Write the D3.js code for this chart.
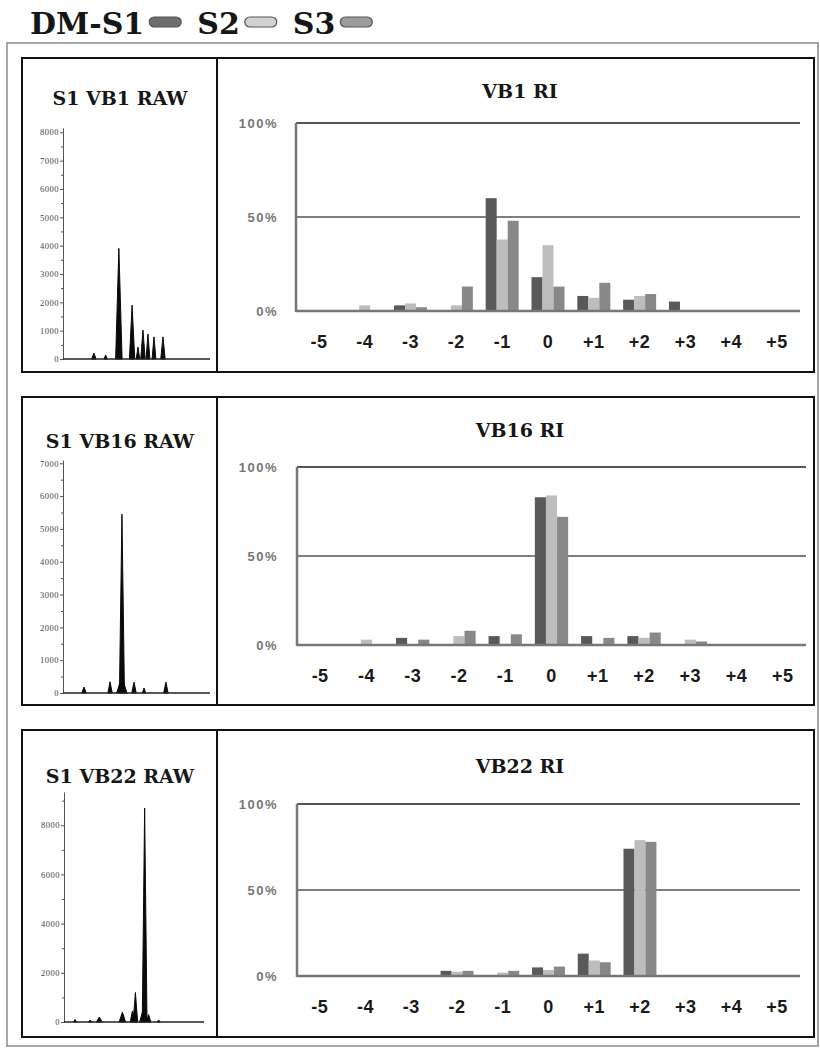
<!DOCTYPE html>
<html>
<head>
<meta charset="utf-8">
<script src="https://cdn.jsdelivr.net/npm/d3@7"></script>
<style>
  body { margin: 0; background: #fff; }
  svg { display: block; }
  .ttl { font-family: 'DejaVu Serif', serif; font-weight: bold; fill: #161616; }
  .pct { font-family: 'Liberation Sans', Arial, sans-serif; font-weight: bold; font-size: 13px; fill: #777; letter-spacing: 1.5px; }
  .cat { font-family: 'Liberation Sans', Arial, sans-serif; font-weight: bold; font-size: 18px; fill: #1a1a1a; letter-spacing: 0.5px; }
  .raw-axis text { font-family: 'Liberation Serif', serif; font-size: 8.5px; fill: #444; letter-spacing: .5px; }
  .raw-axis path, .raw-axis line { stroke: #555; }
</style>
</head>
<body>
<div id="chart"></div>
<script>
// repeat-length categories on the RI charts
var categories = ['-5', '-4', '-3', '-2', '-1', '0', '+1', '+2', '+3', '+4', '+5'];
var seriesNames = ['S1', 'S2', 'S3'];
var legendLabels = ['DM-S1', 'S2', 'S3'];
var pctTicks = [0, 50, 100];

// RI values, percent
var vb1S1 = [0, 0, 3, 0, 60, 18, 8, 6, 5, 0, 0];
var vb1S2 = [0, 3, 4, 3, 38, 35, 7, 8, 0, 0, 0];
var vb1S3 = [0, 0, 2, 13, 48, 13, 15, 9, 0, 0, 0];

var vb16S1 = [0, 0, 4, 0, 5, 83, 5, 5, 0, 0, 0];
var vb16S2 = [0, 3, 0.5, 5, 0.5, 84, 0.5, 4, 3, 0, 0];
var vb16S3 = [0, 0, 3, 8, 6, 72, 4, 7, 2, 0, 0];

var vb22S1 = [0, 0, 0, 3, 0.5, 5, 13, 74, 0.5, 0, 0];
var vb22S2 = [0, 0, 0, 2.5, 2, 3.5, 9, 79, 0, 0, 0];
var vb22S3 = [0, 0, 0, 3, 3, 5.5, 8, 78, 0, 0, 0];

// raw traces: peak position (0-100 scan units), height (rfu), base width (scan units)
var vb1RawPos    = [21, 29, 38, 47, 51, 54.4, 57.8, 61.9, 68];
var vb1RawHeight = [210, 140, 3900, 1900, 420, 1020, 880, 780, 780];
var vb1RawWidth  = [3, 2.2, 4.4, 3.6, 2.4, 3, 2.6, 2.6, 3];

var vb16RawPos    = [14.3, 32, 40, 40.1, 48.3, 55.1, 70];
var vb16RawHeight = [180, 340, 500, 5450, 330, 150, 330];
var vb16RawWidth  = [3, 3, 7, 3.4, 3, 2.2, 3];

var vb22RawPos    = [7.9, 18.7, 25.2, 41.7, 48.9, 51, 56, 57.6, 60.4, 67.6];
var vb22RawHeight = [100, 80, 200, 400, 450, 1200, 400, 8700, 300, 80];
var vb22RawWidth  = [2.2, 2.2, 4, 4.6, 3.2, 3.2, 4, 3.4, 3.2, 2.2];

var rawTicksA = [0, 1000, 2000, 3000, 4000, 5000, 6000, 7000, 8000];
var rawMinorA = [500, 1500, 2500, 3500, 4500, 5500, 6500, 7500];
var rawTicksB = [0, 1000, 2000, 3000, 4000, 5000, 6000, 7000];
var rawMinorB = [500, 1500, 2500, 3500, 4500, 5500, 6500];
var rawTicksC = [0, 2000, 4000, 6000, 8000];
var rawMinorC = [1000, 3000, 5000, 7000, 9000];

var colors = ['#595959', '#bdbdbd', '#888888'];

var W = 820, H = 1057;
var svg = d3.select('#chart').append('svg')
  .attr('width', W)
  .attr('height', H);

svg.append('rect').attr('width', W).attr('height', H).attr('fill', '#fff');

// header with legend swatches
var lx = 30;
legendLabels.forEach(function(lab, i) {
  var t = svg.append('text')
    .attr('class', 'ttl')
    .attr('x', lx)
    .attr('y', 34)
    .style('font-size', '30px')
    .text(lab);
  var tw = t.node().getComputedTextLength();
  svg.append('rect')
    .attr('x', lx + tw + 5)
    .attr('y', 17)
    .attr('width', 32)
    .attr('height', 10)
    .attr('rx', 5)
    .attr('fill', i === 0 ? '#6e6e6e' : (i === 1 ? '#d2d2d2' : '#9c9c9c'))
    .attr('stroke', '#555')
    .attr('stroke-width', 1.2);
  lx = lx + tw + 5 + 32 + 16;
});

// outer frame
svg.append('rect')
  .attr('x', 7).attr('y', 43)
  .attr('width', 811).attr('height', 1003)
  .attr('fill', 'none')
  .attr('stroke', '#8a8a8a')
  .attr('stroke-width', 1.5);

var panels = [
  {top: 58, bottom: 372, rawTitle: 'S1 VB1 RAW', riTitle: 'VB1 RI', rawTitleY: 105, riTitleY: 98,
   raw: {pos: vb1RawPos, h: vb1RawHeight, w: vb1RawWidth, ticks: rawTicksA, minor: rawMinorA,
         ymax: 8150, zero: 359, topY: 128, x0: 63, x1: 210},
   ri: {vals: [vb1S1, vb1S2, vb1S3], zero: 311, full: 123, left: 296, right: 800}},
  {top: 397, bottom: 705, rawTitle: 'S1 VB16 RAW', riTitle: 'VB16 RI', rawTitleY: 448, riTitleY: 437,
   raw: {pos: vb16RawPos, h: vb16RawHeight, w: vb16RawWidth, ticks: rawTicksB, minor: rawMinorB,
         ymax: 7100, zero: 693, topY: 460, x0: 63, x1: 210},
   ri: {vals: [vb16S1, vb16S2, vb16S3], zero: 645, full: 467, left: 297, right: 806}},
  {top: 730, bottom: 1037, rawTitle: 'S1 VB22 RAW', riTitle: 'VB22 RI', rawTitleY: 783, riTitleY: 773,
   raw: {pos: vb22RawPos, h: vb22RawHeight, w: vb22RawWidth, ticks: rawTicksC, minor: rawMinorC,
         ymax: 9350, zero: 1022, topY: 792, x0: 64, x1: 204},
   ri: {vals: [vb22S1, vb22S2, vb22S3], zero: 976, full: 804, left: 297, right: 800}}
];

var peakLine = d3.line();

panels.forEach(function(p) {
  var g = svg.append('g');

  // ---- raw trace ----
  var rx = d3.scaleLinear().domain([0, 100]).range([p.raw.x0, p.raw.x1]);
  var ry = d3.scaleLinear().domain([0, p.raw.ymax]).range([p.raw.zero, p.raw.topY]);

  g.append('text')
    .attr('class', 'ttl')
    .attr('x', 120)
    .attr('y', p.rawTitleY)
    .attr('text-anchor', 'middle')
    .style('font-size', '19px')
    .text(p.rawTitle);

  g.append('g')
    .attr('class', 'raw-axis')
    .attr('transform', 'translate(' + p.raw.x0 + ',0)')
    .call(d3.axisLeft(ry).tickValues(p.raw.minor).tickSize(2).tickFormat(''))
    .select('.domain').remove();

  g.append('g')
    .attr('class', 'raw-axis')
    .attr('transform', 'translate(' + p.raw.x0 + ',0)')
    .call(d3.axisLeft(ry).tickValues(p.raw.ticks).tickSizeInner(3).tickSizeOuter(0)
      .tickPadding(1).tickFormat(d3.format('d')));

  g.selectAll('.peak')
    .data(p.raw.pos.map(function(d, i) { return {x: d, h: p.raw.h[i], w: p.raw.w[i]}; }))
    .enter()
    .append('path')
    .attr('class', 'peak')
    .attr('d', function(d) {
      return peakLine([[rx(d.x - d.w / 2), ry(0)], [rx(d.x), ry(d.h)], [rx(d.x + d.w / 2), ry(0)]]) + 'Z';
    })
    .attr('fill', '#0a0a0a')
    .attr('stroke', '#0a0a0a')
    .attr('stroke-width', 1)
    .attr('stroke-linejoin', 'round');

  g.append('line')
    .attr('x1', rx(0)).attr('x2', rx(100))
    .attr('y1', ry(0)).attr('y2', ry(0))
    .attr('stroke', '#222')
    .attr('stroke-width', 1.5);

  // ---- RI bar chart ----
  var x0 = d3.scaleBand().domain(categories).range([p.ri.left, p.ri.right])
    .paddingInner(0.28).paddingOuter(0.14);
  var x1 = d3.scaleBand().domain(seriesNames).range([0, x0.bandwidth()]);
  var y = d3.scaleLinear().domain([0, 100]).range([p.ri.zero, p.ri.full]);

  g.append('text')
    .attr('class', 'ttl')
    .attr('x', 520)
    .attr('y', p.riTitleY)
    .attr('text-anchor', 'middle')
    .style('font-size', '19px')
    .text(p.riTitle);

  // gridlines at 50% and 100%
  g.selectAll('.grid')
    .data([50, 100])
    .enter()
    .append('line')
    .attr('x1', p.ri.left).attr('x2', p.ri.right)
    .attr('y1', function(d) { return y(d); })
    .attr('y2', function(d) { return y(d); })
    .attr('stroke', '#555')
    .attr('stroke-width', function(d) { return d === 100 ? 2 : 1.5; });

  g.selectAll('.pct')
    .data(pctTicks)
    .enter()
    .append('text')
    .attr('class', 'pct')
    .attr('x', 278)
    .attr('y', function(d) { return y(d); })
    .attr('dy', '0.36em')
    .attr('text-anchor', 'end')
    .text(function(d) { return d + '%'; });

  var groups = g.selectAll('.cgrp')
    .data(categories)
    .enter()
    .append('g')
    .attr('class', 'cgrp')
    .attr('transform', function(d) { return 'translate(' + x0(d) + ',0)'; });

  groups.selectAll('rect')
    .data(function(d, ci) {
      return seriesNames.map(function(s, si) { return {s: s, si: si, v: p.ri.vals[si][ci]}; });
    })
    .enter()
    .append('rect')
    .attr('x', function(d) { return x1(d.s); })
    .attr('width', x1.bandwidth())
    .attr('y', function(d) { return y(d.v); })
    .attr('height', function(d) { return y(0) - y(d.v); })
    .attr('fill', function(d) { return colors[d.si]; });

  // axis lines (0% baseline and left edge)
  g.append('line')
    .attr('x1', p.ri.left).attr('x2', p.ri.right)
    .attr('y1', y(0)).attr('y2', y(0))
    .attr('stroke', '#777').attr('stroke-width', 2.5);
  g.append('line')
    .attr('x1', p.ri.left).attr('x2', p.ri.left)
    .attr('y1', y(0) + 1).attr('y2', y(100))
    .attr('stroke', '#777').attr('stroke-width', 2.5);

  g.selectAll('.cat')
    .data(categories)
    .enter()
    .append('text')
    .attr('class', 'cat')
    .attr('x', function(d) { return x0(d) + x0.bandwidth() / 2; })
    .attr('y', y(0) + 31)
    .attr('dy', '0.36em')
    .attr('text-anchor', 'middle')
    .text(function(d) { return d; });

  // panel border and divider
  g.append('rect')
    .attr('x', 22).attr('y', p.top)
    .attr('width', 792).attr('height', p.bottom - p.top)
    .attr('fill', 'none')
    .attr('stroke', '#111')
    .attr('stroke-width', 2);
  g.append('line')
    .attr('x1', 217).attr('x2', 217)
    .attr('y1', p.top).attr('y2', p.bottom)
    .attr('stroke', '#111')
    .attr('stroke-width', 2);
});
</script>
</body>
</html>
